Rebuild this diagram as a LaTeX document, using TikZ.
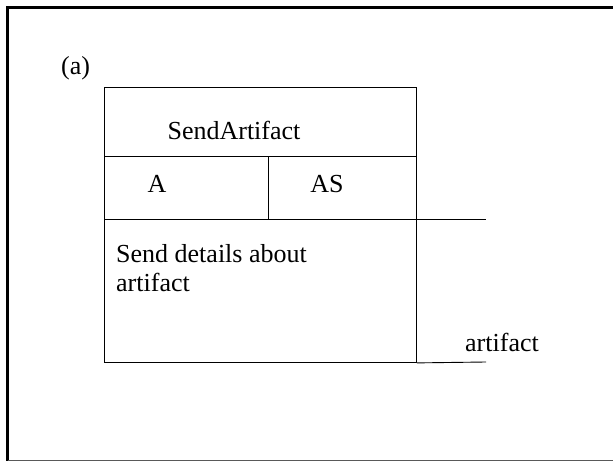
\documentclass[tikz,border=0pt]{standalone}
\usepackage{fontspec}
\setmainfont{Liberation Serif}
\usetikzlibrary{positioning}

\tikzset{
  cell/.style={draw,line width=0.9pt,inner sep=0pt,anchor=north west},
  txt/.style={inner sep=0pt,font=\fontsize{26}{29}\selectfont},
  frameline/.style={line width=3pt},
  bottomline/.style={line width=1.5pt,draw=black!65},
  sideline/.style={line width=0.9pt}
}

\begin{document}
\begin{tikzpicture}[x=1pt,y=-1pt]
  \useasboundingbox (0,0) rectangle (613,462);
  % outer frame (open on the right)
  \coordinate (ftr) at (613,8);
  \coordinate (ftl) at (7.5,8);
  \coordinate (fbl) at (7.5,460.5);
  \coordinate (fbr) at (613,460.5);
  \draw[frameline] (ftr) -- (ftl) -- (fbl);
  \draw[bottomline] (fbl) -- (fbr);

  \node[txt,anchor=base west] (lbl) at (61,75) {(a)};

  % the box
  \node[cell,minimum width=312pt,minimum height=69pt] (title) at (104,87) {};
  \node[cell,minimum width=164pt,minimum height=63pt] (acell) at (104,156) {};
  \node[cell,minimum width=148pt,minimum height=63pt] (ascell) at (268,156) {};
  \node[cell,minimum width=312pt,minimum height=143pt] (body) at (104,219) {};

  \node[txt,anchor=base] (name) at (234,140) {SendArtifact};
  \node[txt,anchor=base] (actor) at (157,193) {A};
  \node[txt,anchor=base] (sys) at (327,193) {AS};
  \node[txt,anchor=north west,align=left] (desc) at (116,244.5)
    {Send details about\\artifact};

  % side lines
  \coordinate (inend) at (486,219);
  \coordinate (outend) at (486,362);
  \draw[sideline] (body.north east) -- (inend);
  \draw[sideline] (body.south east) -- (outend);
  \node[txt,anchor=base west] (out) at (465,351) {artifact};
\end{tikzpicture}
\end{document}
